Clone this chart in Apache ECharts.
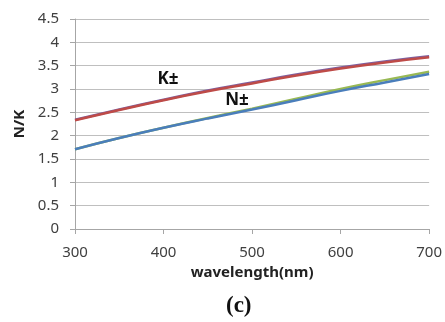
<!DOCTYPE html>
<html>
<head>
<meta charset="utf-8">
<script src="https://cdn.jsdelivr.net/npm/echarts@6/dist/echarts.min.js"></script>
<style>
  html, body { margin: 0; padding: 0; background: #fff; }
  #chart { width: 445px; height: 322px; }
</style>
</head>
<body>
<div id="chart"></div>
<script>
// wavelength samples (nm)
const wavelengths = [300, 350, 400, 450, 500, 550, 600, 650, 700];
// K+ / K- and N+ / N-
const kPlus  = [2.34, 2.56, 2.77, 2.97, 3.14, 3.31, 3.46, 3.59, 3.70];
const kMinus = [2.33, 2.55, 2.76, 2.95, 3.12, 3.29, 3.44, 3.57, 3.68];
const nPlus  = [1.71, 1.95, 2.17, 2.38, 2.58, 2.79, 3.00, 3.19, 3.37];
const nMinus = [1.71, 1.95, 2.17, 2.37, 2.56, 2.76, 2.96, 3.14, 3.32];
// curve annotations [wavelength, value, text]
const notes = [[405, 3.21, 'K±'], [483, 2.76, 'N±']];

const pairs = (ys) => wavelengths.map((x, i) => [x, ys[i]]);

const chart = echarts.init(document.getElementById('chart'), null, { renderer: 'canvas' });

const tickFont = { color: '#404040', fontSize: 15, fontFamily: 'Noto Sans' };

const lineSeries = (name, ys, color) => ({
  name,
  type: 'line',
  data: pairs(ys),
  smooth: true,
  symbol: 'none',
  lineStyle: { color, width: 2.5 },
  silent: true,
});

chart.setOption({
  animation: false,
  backgroundColor: '#fff',
  title: {
    text: '{p|(}{c|c}{p|)}',
    left: 221,
    top: 290,
    textStyle: {
      rich: {
        p: { fontFamily: 'Liberation Serif', fontSize: 23, color: '#111' },
        c: { fontFamily: 'Liberation Serif', fontSize: 23, fontWeight: 'bold', color: '#111' },
      },
    },
  },
  grid: { left: 75, right: 15, top: 19, bottom: 93 },
  xAxis: {
    type: 'value',
    min: 300, max: 700, interval: 100,
    name: 'wavelength(nm)',
    nameLocation: 'middle',
    nameGap: 36,
    nameTextStyle: { fontFamily: 'Noto Sans', fontWeight: 'bold', fontSize: 15, color: '#222' },
    axisLine: { lineStyle: { color: '#a6a6a6' } },
    axisTick: { show: true, length: 5, lineStyle: { color: '#a6a6a6' } },
    axisLabel: Object.assign({ margin: 16 }, tickFont),
    splitLine: { show: false },
  },
  yAxis: {
    type: 'value',
    min: 0, max: 4.5, interval: 0.5,
    name: 'N/K',
    nameLocation: 'middle',
    nameGap: 40,
    nameTextStyle: { fontFamily: 'Noto Sans', fontWeight: 'bold', fontSize: 15, color: '#222' },
    axisLine: { show: true, lineStyle: { color: '#a6a6a6' } },
    axisTick: { show: true, length: 5, lineStyle: { color: '#a6a6a6' } },
    axisLabel: Object.assign({ margin: 16 }, tickFont),
    splitLine: { show: true, lineStyle: { color: '#bfbfbf', width: 1 } },
  },
  series: [
    lineSeries('K+', kPlus, '#7d60a0'),
    Object.assign(lineSeries('K-', kMinus, '#be4b48'), {
      markPoint: {
        symbol: 'circle',
        symbolSize: 0,
        label: {
          show: true,
          formatter: (p) => p.name,
          fontFamily: 'Noto Sans', fontWeight: 'bold', fontSize: 17, color: '#111',
        },
        data: notes.map(n => ({ name: n[2], coord: [n[0], n[1]] })),
      },
    }),
    lineSeries('N+', nPlus, '#98b954'),
    lineSeries('N-', nMinus, '#4a7ebb'),
  ],
});
</script>
</body>
</html>
